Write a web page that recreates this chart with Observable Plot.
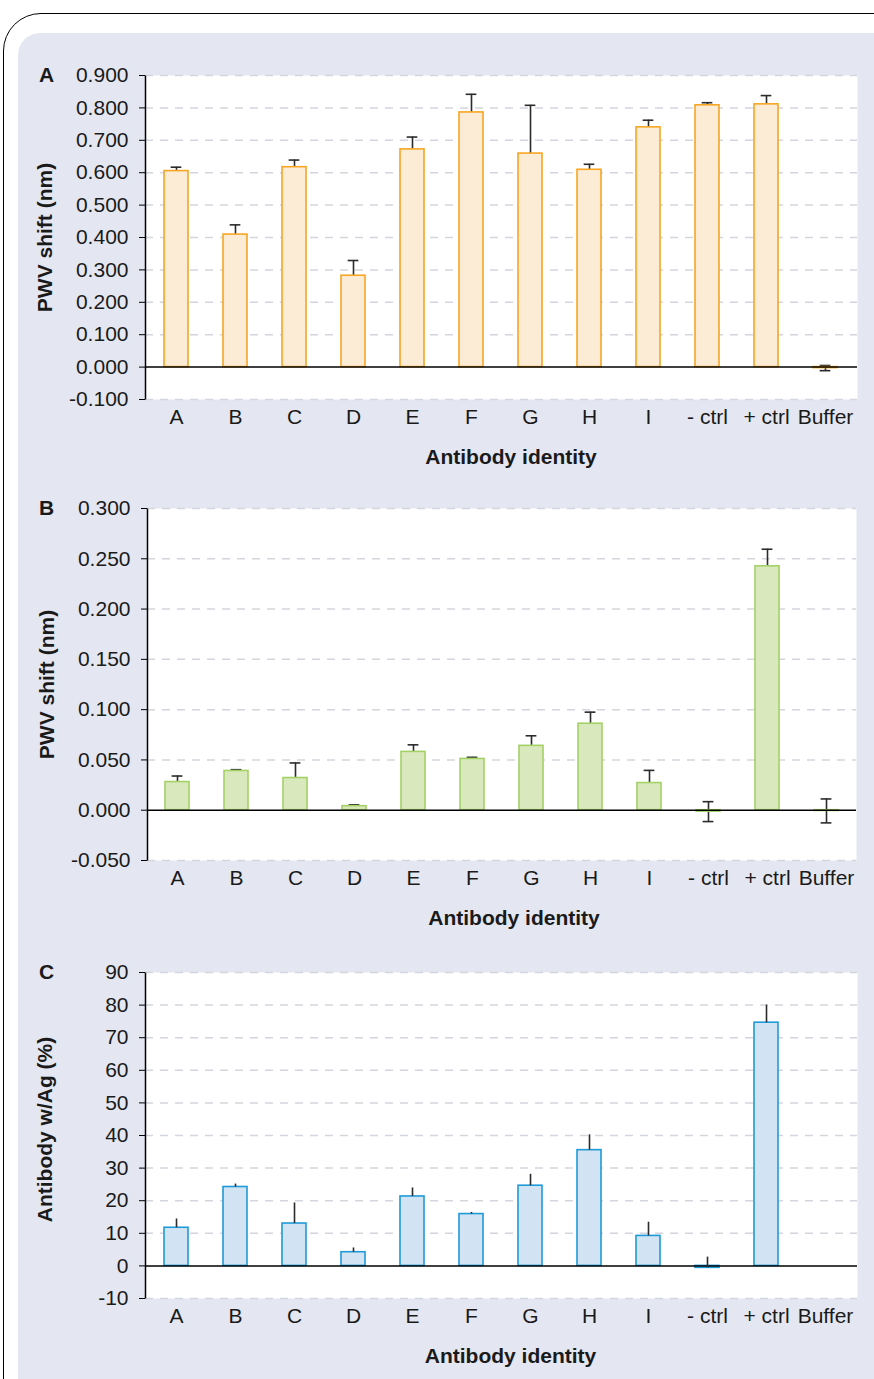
<!DOCTYPE html>
<html><head><meta charset="utf-8">
<script src="https://cdn.jsdelivr.net/npm/d3@7"></script>
<script src="https://cdn.jsdelivr.net/npm/@observablehq/plot@0.6"></script>
<style>
html,body{margin:0;padding:0;width:874px;height:1379px;overflow:hidden;background:#fff;font-family:"Liberation Sans",Arial,sans-serif;}
#border{position:absolute;left:3px;top:13px;width:1000px;height:1500px;border:1.5px solid #000;border-top-left-radius:38px;box-sizing:border-box;}
#panel{position:absolute;left:18px;top:33px;width:1000px;height:1500px;background:#e4e7f1;border-top-left-radius:22px;}
.chart{position:absolute;left:0;}
</style></head><body>
<div id="border"></div><div id="panel"></div>
<div id="pa" class="chart" style="top:50px"></div>
<div id="pb" class="chart" style="top:483px"></div>
<div id="pc" class="chart" style="top:947px"></div>
<script>
const categories = ["A","B","C","D","E","F","G","H","I","- ctrl","+ ctrl","Buffer"];

const shiftA = [0.605, 0.409, 0.617, 0.282, 0.672, 0.786, 0.659, 0.609, 0.740, 0.808, 0.811, -0.003];
const errA   = [0.012, 0.030, 0.022, 0.047, 0.038, 0.056, 0.149, 0.017, 0.022, 0.008, 0.027, 0.008];
const ticksA = [-0.1, 0, 0.1, 0.2, 0.3, 0.4, 0.5, 0.6, 0.7, 0.8, 0.9];

const shiftB = [0.028, 0.039, 0.032, 0.004, 0.058, 0.051, 0.064, 0.086, 0.027, -0.0014, 0.2425, -0.0007];
const errB   = [0.006, 0.0013, 0.015, 0.0013, 0.007, 0.0016, 0.010, 0.0115, 0.0126, 0.0099, 0.017, 0.0119];
const ticksB = [-0.05, 0, 0.05, 0.1, 0.15, 0.2, 0.25, 0.3];

const pctC  = [11.7, 24.2, 13.0, 4.2, 21.3, 15.9, 24.6, 35.5, 9.2, -0.6, 74.6, 0];
const errC  = [2.7, 0.9, 6.3, 1.3, 2.6, 0.5, 3.5, 4.7, 4.2, 3.3, 5.4, 0];
const ticksC = [-10, 0, 10, 20, 30, 40, 50, 60, 70, 80, 90];

const xTitle = "Antibody identity";

function panel(o) {
  const W = 874, mt = 25, mb = 80;
  const innerW = W - o.ml - o.mr;
  const step = innerW / categories.length;
  const pad = 0.59;
  const capW = 11;
  const capInset = (step * (1 - pad) - capW) / 2;
  const data = categories.map((c, i) => ({cat: c, v: o.values[i], e: o.errors[i]}));
  const errMarks = o.capped ? [
    Plot.ruleX(data, {x: "cat", y1: d => d.v - d.e, y2: d => d.v + d.e, stroke: "#2b2b2b", strokeWidth: 1.6}),
    Plot.tickY(data, {x: "cat", y: d => d.v + d.e, stroke: "#2b2b2b", strokeWidth: 1.6, insetLeft: capInset, insetRight: capInset}),
    Plot.tickY(data, {x: "cat", y: d => d.v - d.e, stroke: "#2b2b2b", strokeWidth: 1.6, insetLeft: capInset, insetRight: capInset})
  ] : [];
  const errTop = o.capped ? [] : [
    Plot.ruleX(data, {x: "cat", y1: "v", y2: d => d.v + d.e, stroke: "#2b2b2b", strokeWidth: 1.6})
  ];
  return Plot.plot({
    width: W, height: mt + o.innerH + mb,
    marginLeft: o.ml, marginRight: o.mr, marginTop: mt, marginBottom: mb,
    style: {background: "transparent", fontFamily: "Liberation Sans, Arial, sans-serif", fontSize: "21px", color: "#1a1a1a", overflow: "visible"},
    x: {domain: categories, paddingInner: pad, paddingOuter: pad / 2, label: null},
    y: {domain: o.domain, label: null},
    marks: [
      Plot.frame({fill: "white", stroke: "none"}),
      Plot.gridY({ticks: o.ticks.filter(t => t !== 0), stroke: "#d3d6de", strokeOpacity: 1, strokeWidth: 1.5, strokeDasharray: "8,7"}),
      Plot.axisY({ticks: o.ticks, tickSize: 6, tickPadding: 11, tickFormat: o.fmt, stroke: "black", label: null}),
      Plot.axisX({tickSize: 0, tickPadding: 10, label: null}),
      Plot.frame({stroke: "black", strokeWidth: 1.5, fill: "none", strokeDasharray: `0 ${2 * innerW + o.innerH} ${o.innerH}`}),
      ...errMarks,
      Plot.barY(data, {x: "cat", y: "v", fill: o.fill, stroke: o.stroke, strokeWidth: 1.6}),
      Plot.ruleY([0], {stroke: "black", strokeWidth: 1.5}),
      ...errTop,
      Plot.text([o.yLabel], {frameAnchor: "left", textAnchor: "middle", lineAnchor: "middle", rotate: -90, dx: -100, dy: o.yLabelDy || 0, fontWeight: "bold", fill: "#1a1a1a"}),
      Plot.text([xTitle], {frameAnchor: "bottom", textAnchor: "middle", lineAnchor: "middle", dy: 58, dx: o.xDx, fontWeight: "bold", fill: "#1a1a1a"}),
      Plot.text([o.letter], {frameAnchor: "top-left", textAnchor: "middle", lineAnchor: "middle", dx: 46 - o.ml, fontWeight: "bold", fill: "#1a1a1a"})
    ]
  });
}

document.getElementById("pa").append(panel({
  values: shiftA, errors: errA, domain: [-0.1, 0.9], ticks: ticksA, fmt: d => d.toFixed(3),
  yLabel: "PWV shift (nm)", letter: "A", fill: "#fdecd5", stroke: "#f6a623",
  ml: 145, mr: 17, innerH: 324, capped: true, xDx: 9.5
}));
document.getElementById("pb").append(panel({
  values: shiftB, errors: errB, domain: [-0.05, 0.3], ticks: ticksB, fmt: d => d.toFixed(3),
  yLabel: "PWV shift (nm)", letter: "B", fill: "#d9e9bd", stroke: "#a3d165",
  ml: 147, mr: 18, innerH: 352, capped: true, xDx: 12
}));
document.getElementById("pc").append(panel({
  values: pctC, errors: errC, domain: [-10, 90], ticks: ticksC, fmt: d => String(d),
  yLabel: "Antibody w/Ag (%)", letter: "C", fill: "#d2e4f4", stroke: "#1f9ad8",
  ml: 145, mr: 17, innerH: 326, capped: false, xDx: 9, yLabelDy: -6
}));
</script>
</body></html>
